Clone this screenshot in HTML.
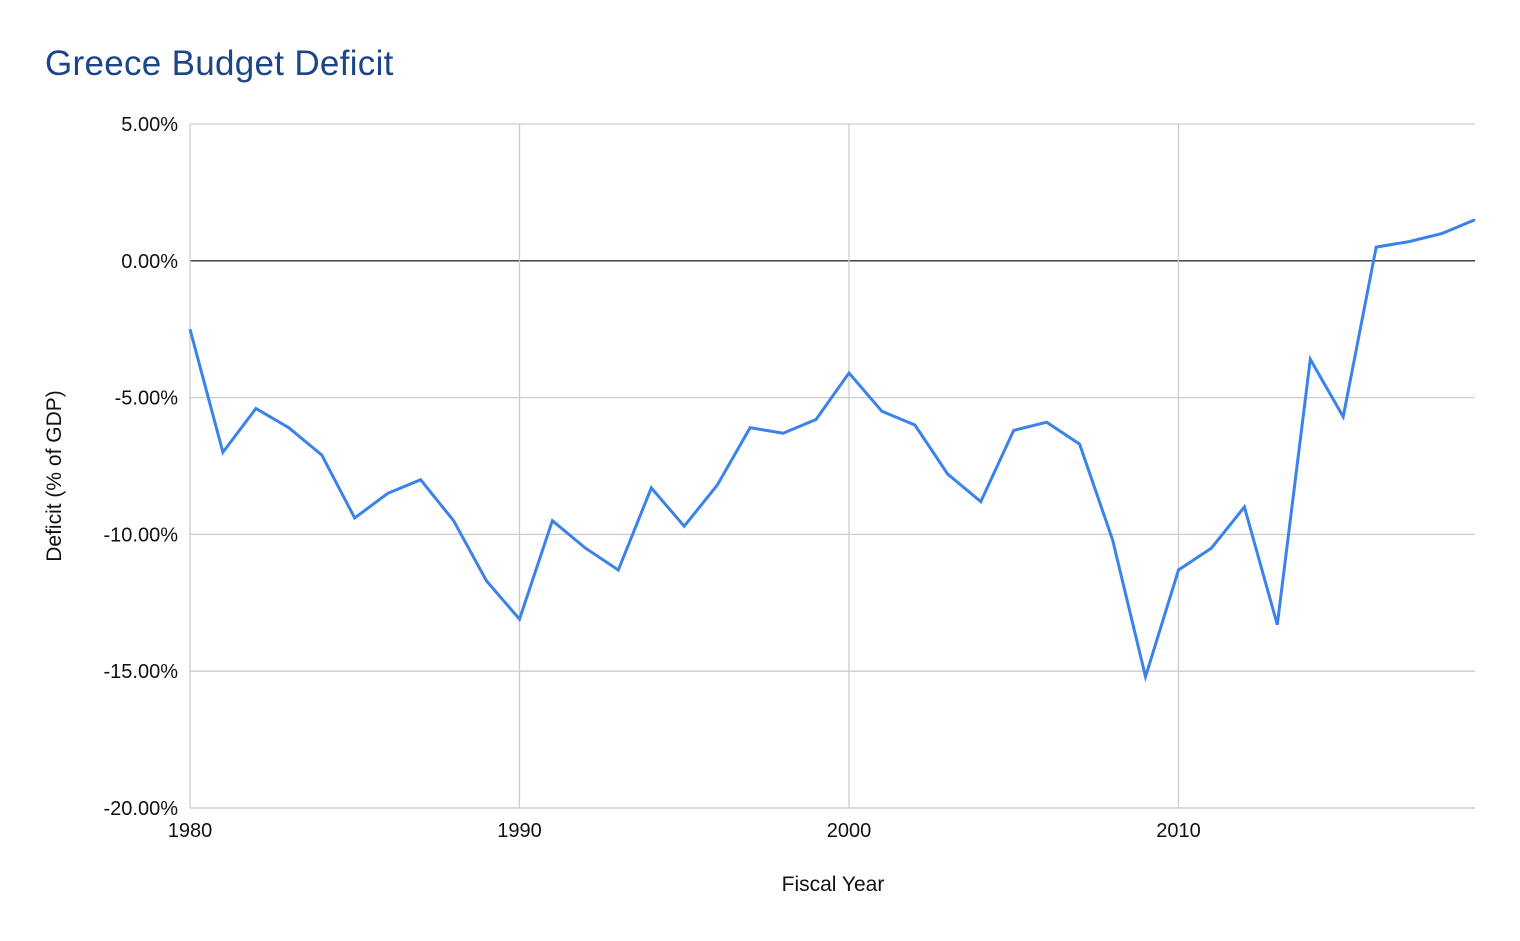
<!DOCTYPE html>
<html><head><meta charset="utf-8"><style>
body{margin:0;background:#fff;font-family:"Liberation Sans",sans-serif;}
</style></head><body>
<svg width="1520" height="936" xmlns="http://www.w3.org/2000/svg">
<text x="45" y="75" font-size="35" fill="#1c4587" font-family="Liberation Sans, sans-serif" letter-spacing="0.3">Greece Budget Deficit</text>
<g id="grid"></g>
<g id="axes"></g>
<g id="series"></g>
<text x="833" y="891" font-size="21" text-anchor="middle" fill="#111">Fiscal Year</text>
<text transform="translate(61,476) rotate(-90)" font-size="21" text-anchor="middle" fill="#111">Deficit (% of GDP)</text>
</svg>
<script>
const years=[1980,1981,1982,1983,1984,1985,1986,1987,1988,1989,1990,1991,1992,1993,1994,1995,1996,1997,1998,1999,2000,2001,2002,2003,2004,2005,2006,2007,2008,2009,2010,2011,2012,2013,2014,2015,2016,2017,2018,2019];
const deficit=[-2.5,-7.0,-5.4,-6.1,-7.1,-9.4,-8.5,-8.0,-9.5,-11.7,-13.1,-9.5,-10.5,-11.3,-8.3,-9.7,-8.2,-6.1,-6.3,-5.8,-4.1,-5.5,-6.0,-7.8,-8.8,-6.2,-5.9,-6.7,-10.2,-15.2,-11.3,-10.5,-9.0,-13.3,-3.6,-5.7,0.5,0.7,1.0,1.5];
const yTicks=[5,0,-5,-10,-15,-20];
const yTickLabels=["5.00%","0.00%","-5.00%","-10.00%","-15.00%","-20.00%"];
const xTicks=[1980,1990,2000,2010];
const xTickLabels=["1980","1990","2000","2010"];
const NS="http://www.w3.org/2000/svg";
const X0=190,X1=1475,Y0=124,Y1=808;
const xs=y=>X0+(y-1980)/(2019-1980)*(X1-X0);
const ys=v=>Y0+(5-v)/25*(Y1-Y0);
function mk(t,a,p){const e=document.createElementNS(NS,t);for(const k in a)e.setAttribute(k,a[k]);p.appendChild(e);return e;}
const grid=document.getElementById('grid'),axes=document.getElementById('axes'),series=document.getElementById('series');
yTicks.forEach((v,i)=>{
 const l=mk('line',{x1:X0,x2:X1,y1:ys(v),y2:ys(v),stroke:v===0?'#333':'#ccc','stroke-width':1.3},grid);
 
 
 const t=mk('text',{x:178,y:ys(v)+7,'font-size':20,'text-anchor':'end',fill:'#111'},axes);
 t.textContent=yTickLabels[i];
 
 
});
xTicks.forEach((v,i)=>{
 const l=mk('line',{x1:xs(v),x2:xs(v),y1:Y0,y2:Y1,stroke:'#ccc','stroke-width':1.3},grid);
 
 
 const t=mk('text',{x:xs(v),y:837,'font-size':20,'text-anchor':'middle',fill:'#111'},axes);
 t.textContent=xTickLabels[i];
 
 
});
const bl=mk('line',{x1:X0,x2:X1,y1:Y1,y2:Y1,stroke:'#ccc','stroke-width':1.3},grid);


const d=years.map((y,i)=>(i?'L':'M')+xs(y).toFixed(1)+','+ys(deficit[i]).toFixed(1)).join(' ');
const p=mk('path',{d:d,fill:'none',stroke:'#3b82eb','stroke-width':3,'stroke-linejoin':'miter'},series);


</script>
</body></html>
